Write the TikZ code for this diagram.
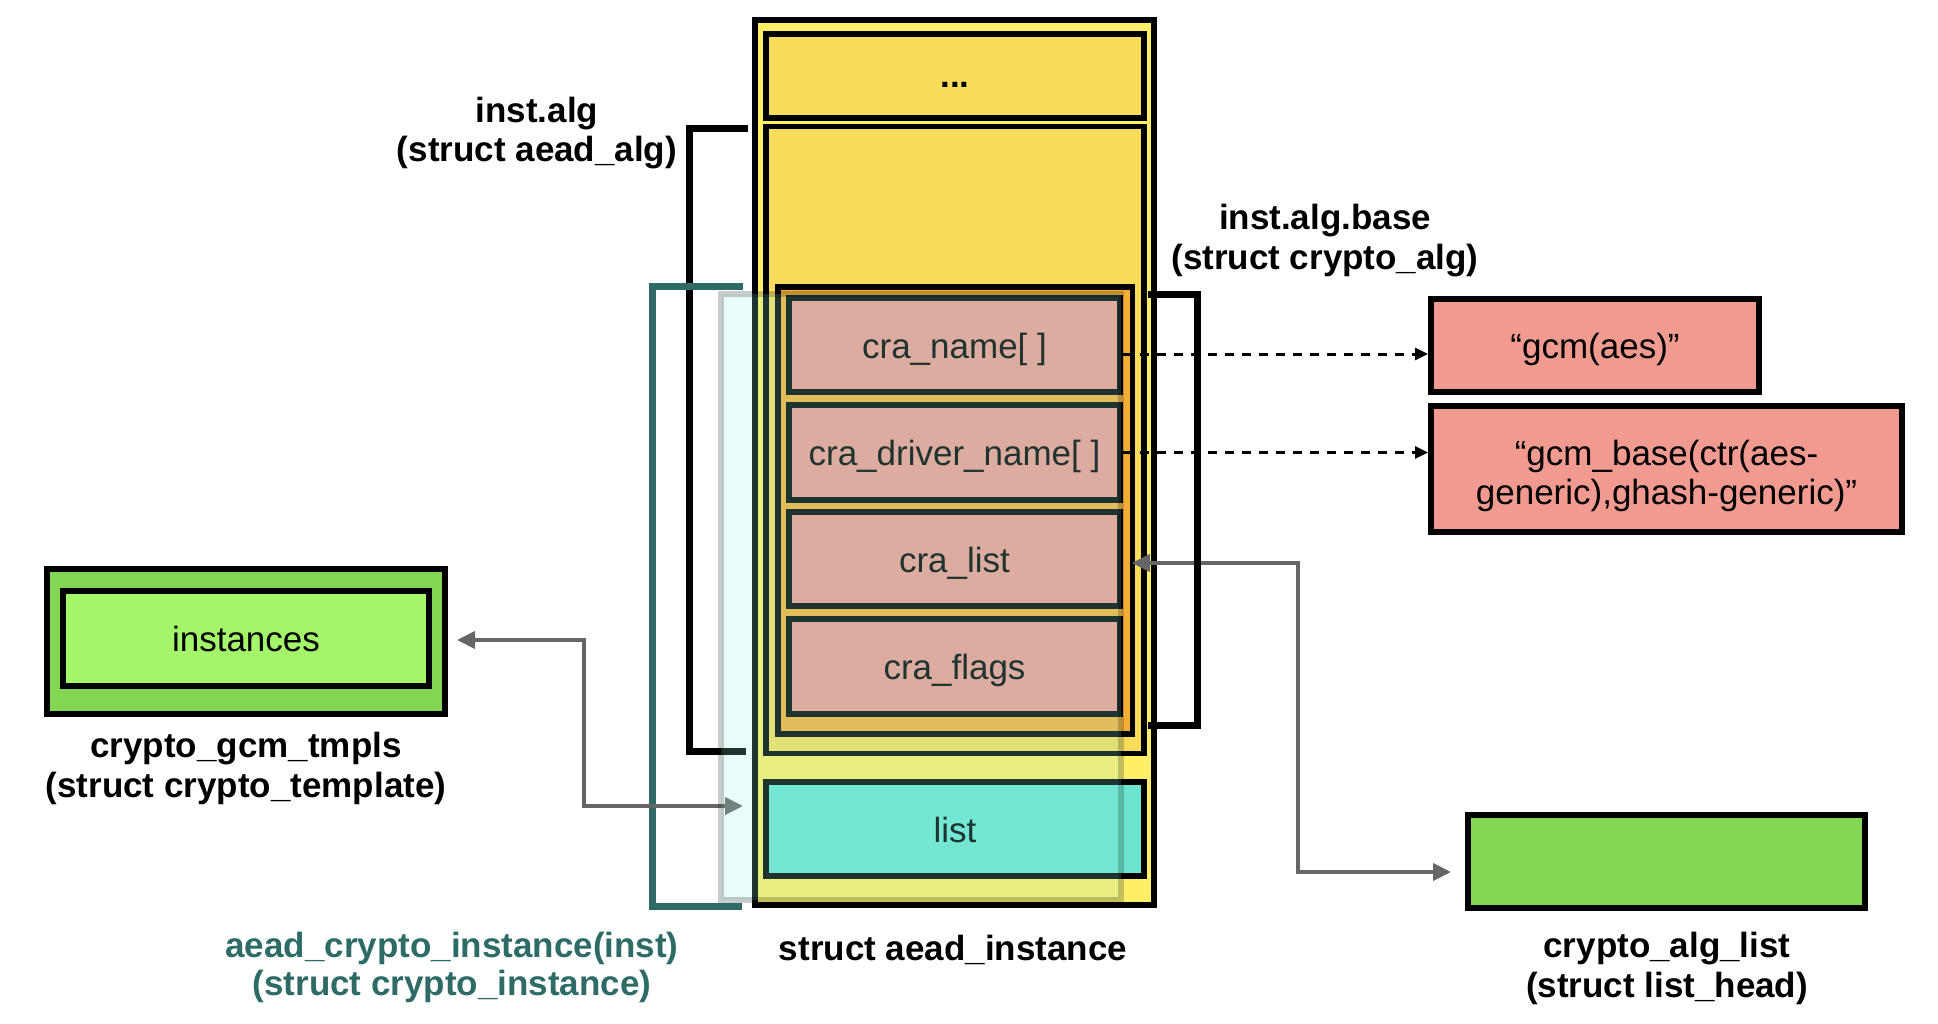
\documentclass[tikz,border=0pt]{standalone}
\usepackage{fontspec}
\setmainfont{Liberation Sans}
\usetikzlibrary{arrows.meta}
\definecolor{yelA}{HTML}{FFEE66}
\definecolor{yelB}{HTML}{F8DC5A}
\definecolor{orgA}{HTML}{F5AE35}
\definecolor{salm}{HTML}{F19A8F}
\definecolor{turq}{HTML}{6CE5D0}
\definecolor{grnD}{HTML}{82D653}
\definecolor{grnL}{HTML}{A3F56A}
\definecolor{tealc}{HTML}{2E6B66}
\definecolor{ovl}{HTML}{93F3E4}
\definecolor{arrg}{HTML}{666666}
\begin{document}
\begin{tikzpicture}[x=1pt,y=-1pt,
  box/.style={draw=black, line width=5.5pt, inner sep=0pt, text height=26pt, text depth=0pt, font=\fontsize{35}{39}\selectfont},
  lbl/.style={anchor=base, inner sep=0pt, font=\fontsize{35}{39}\selectfont\bfseries},
  brk/.style={line width=7pt},
  ptr/.style={draw=arrg, line width=4pt, arrows={Triangle[length=18pt,width=17pt]-Triangle[length=18pt,width=17pt]}},
  dsh/.style={draw=black, line width=3pt, dash pattern=on 9pt off 8pt, arrows={-Triangle[length=13pt,width=12pt]}}
]
\useasboundingbox (0,0) rectangle (1938,1024);

% struct aead_instance
\node[box, line width=6pt, fill=yelA, minimum width=399pt, minimum height=885pt] (outer) at (954.5,462.5) {};
\node[box, fill=yelB, minimum width=378pt, minimum height=84pt, text height=24pt, font=\fontsize{35}{39}\selectfont\bfseries] (dots) at (955,76) {...};
\node[box, fill=yelB, minimum width=378pt, minimum height=627pt] (instalg) at (955,440) {};
\node[box, fill=orgA, minimum width=354.5pt, minimum height=447pt] (cryptoalg) at (955.25,510.5) {};
\node[box, fill=salm, minimum width=331pt, minimum height=94pt] (craname) at (954.5,345) {cra\_name[ ]};
\node[box, fill=salm, minimum width=331pt, minimum height=95pt] (cradriver) at (954.5,452.5) {cra\_driver\_name[ ]};
\node[box, fill=salm, minimum width=331pt, minimum height=94pt] (cralist) at (954.5,559) {cra\_list};
\node[box, fill=salm, minimum width=331pt, minimum height=95pt] (craflags) at (954.5,666.5) {cra\_flags};
\node[box, fill=turq, minimum width=378pt, minimum height=94pt] (listbox) at (955,829) {list};

% left boxes
\node[box, line width=6pt, fill=grnD, minimum width=398pt, minimum height=145pt] (tmpls) at (246,641.5) {};
\node[box, fill=grnL, minimum width=366pt, minimum height=95pt] (instances) at (246,638.5) {instances};

% right boxes
\node[box, line width=6pt, fill=salm, minimum width=328pt, minimum height=93pt] (gcmaes) at (1595,345.5) {“gcm(aes)”};
\node[box, line width=6pt, fill=salm, minimum width=471pt, minimum height=126pt] (gcmbase) at (1666.5,469) {};
\node[inner sep=0pt, align=center, font=\fontsize{35}{39}\selectfont] (gcmbasetxt) at (1666.5,476) {“gcm\_base(ctr(aes-\\generic),ghash-generic)”};
\node[box, line width=6pt, fill=grnD, minimum width=397pt, minimum height=93pt] (alglist) at (1666.5,861.5) {};

% brackets
\draw[brk] (748,129) -- (689.5,129) -- (689.5,751) -- (746,751);
\draw[brk, draw=tealc, line width=6.5pt] (743,286.5) -- (652.5,286.5) -- (652.5,906.5) -- (742,906.5);

% grey pointers
\coordinate (ltip) at (743,806);
\draw[ptr] ([xshift=9pt,yshift=1.5pt]tmpls.east) -- (584,640) -- (584,806) -- (ltip);
\draw[ptr] ([xshift=9pt,yshift=-4pt]cralist.east) -- (1298,563) -- (1298,872) -- ([xshift=-14pt,yshift=-10.5pt]alglist.west);

% crypto_instance overlay
\node[draw=black, draw opacity=0.2, fill=ovl, fill opacity=0.21, line width=6pt, inner sep=0pt, minimum width=400pt, minimum height=606pt] (inst) at (921,597) {};

% right bracket
\draw[brk] (1148,294.5) -- (1197,294.5) -- (1197,725) -- (1148,725);

% dashed pointers
\coordinate (d1) at ([yshift=-9pt]craname.east);
\coordinate (d2) at (cradriver.east);
\draw[dsh] (d1) -- (d1 -| gcmaes.west);
\draw[dsh] (d2) -- (d2 -| gcmbase.west);

% labels
\node[lbl] (lA1) at (537,123) {inst.alg};
\node[lbl] (lA2) at (537,162) {(struct aead\_alg)};
\node[lbl] (lB1) at (1325,230) {inst.alg.base};
\node[lbl] (lB2) at (1325,270) {(struct crypto\_alg)};
\node[lbl] (lC1) at (246,757) {crypto\_gcm\_tmpls};
\node[lbl] (lC2) at (246,797) {(struct crypto\_template)};
\node[lbl, text=tealc] (lD1) at (452,957) {aead\_crypto\_instance(inst)};
\node[lbl, text=tealc] (lD2) at (452,995) {(struct crypto\_instance)};
\node[lbl] (lE) at (953,960) {struct aead\_instance};
\node[lbl] (lF1) at (1667,957) {crypto\_alg\_list};
\node[lbl] (lF2) at (1667,997) {(struct list\_head)};
\end{tikzpicture}
\end{document}
